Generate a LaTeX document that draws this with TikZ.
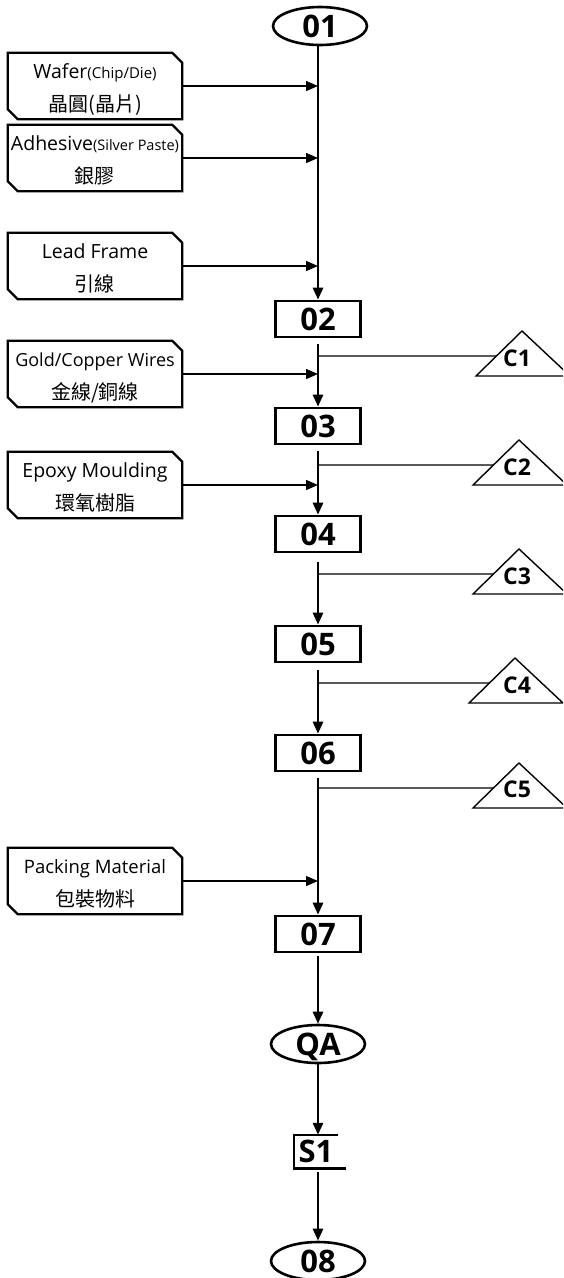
\documentclass[tikz,border=0pt]{standalone}
\usepackage{fontspec}
\setmainfont{Open Sans}
\newfontfamily\cjk{Noto Sans CJK TC}
\usetikzlibrary{arrows.meta,calc,shapes.geometric}
\begin{document}
\begin{tikzpicture}[x=1pt,y=-1pt,
  card/.style={minimum width=174pt,minimum height=66pt,inner sep=0pt,align=center,
    text height=50pt,text depth=0pt,font=\fontsize{19.5}{33}\selectfont},
  cardline/.style={line width=2.3pt,line join=miter},
  proc/.style={draw,line width=2.6pt,minimum width=85pt,minimum height=36pt,inner sep=0pt,
    text height=22pt,text depth=0pt,font=\bfseries\fontsize{31}{31}\selectfont},
  term/.style={draw,ellipse,line width=2.6pt,minimum width=94pt,minimum height=38pt,inner sep=0pt,
    text height=22pt,text depth=0pt,font=\bfseries\fontsize{31}{31}\selectfont},
  stor/.style={minimum width=44pt,minimum height=33pt,inner sep=0pt,
    text height=22pt,text depth=0pt,font=\bfseries\fontsize{31}{31}\selectfont},
  flow/.style={line width=2.7pt,-{Triangle[length=12pt,width=10pt]}},
  feed/.style={line width=1.4pt,-{Triangle[length=12pt,width=10pt]}},
  branch/.style={line width=1.3pt},
  clabel/.style={inner sep=0pt,text height=17pt,text depth=0pt,font=\bfseries\fontsize{23}{23}\selectfont},
  tri/.style={line width=1.4pt,line join=miter},
  zh/.style={}]
\useasboundingbox (0,0) rectangle (563,1278);
\clip (0,0) rectangle (563,1278);

% main flow nodes
\node[term] (n01) at (320,26) {01};
\node[proc] (n02) at (318,319) {02};
\node[proc] (n03) at (318,426) {03};
\node[proc] (n04) at (318,534) {04};
\node[proc] (n05) at (318,644) {05};
\node[proc] (n06) at (318,753) {06};
\node[proc] (n07) at (318,934) {07};
\node[term] (qa) at (318,1044) {QA};
\node[stor] (s1) at (316,1151.5) {S1};
\node[term] (n08) at (318,1261) {08};
\draw[line width=2.6pt] ([xshift=8pt]s1.south east) -- (s1.south west) -- (s1.north west) -- (s1.north east);

% main connectors
\draw[flow] (n01.south -| n02) -- (n02);
\draw[flow,shorten <=6pt] (n02) -- (n03);
\draw[flow,shorten <=6pt] (n03) -- (n04);
\draw[flow,shorten <=9pt] (n04) -- (n05);
\draw[flow,shorten <=7pt] (n05) -- (n06);
\draw[flow,shorten <=6pt] (n06) -- (n07);
\draw[flow,shorten <=3pt] (n07) -- (qa);
\draw[flow] (qa) -- (qa |- s1.north);
\draw[flow,shorten <=4pt] (qa |- s1.south) -- (n08);

% material cards
\node[card] (w)  at (95,86)  {Wafer{\fontsize{15}{33}\selectfont(Chip/Die)}\\{\cjk\fontsize{20}{33}\selectfont 晶圓(晶片)}};
\node[card] (ad) at (95,158) {Adhesive{\fontsize{14.5}{33}\selectfont(Silver Paste)}\\{\cjk\fontsize{20}{33}\selectfont 銀膠}};
\node[card] (lf) at (95,266) {Lead Frame\\{\cjk\fontsize{20}{33}\selectfont 引線}};
\node[card] (gw) at (95,374) {{\fontsize{18}{33}\selectfont Gold/Copper Wires}\\{\cjk\fontsize{20}{33}\selectfont 金線/銅線}};
\node[card] (ep) at (95,485) {Epoxy Moulding\\{\cjk\fontsize{20}{33}\selectfont 環氧樹脂}};
\node[card] (pk) at (95,881) {{\fontsize{18.5}{33}\selectfont Packing Material}\\{\cjk\fontsize{20}{33}\selectfont 包裝物料}};
\foreach \n in {w,ad,lf,gw,ep,pk}{
  \draw[cardline] (\n.north west) -- ([xshift=-10pt]\n.north east) -- ([yshift=-10pt]\n.north east)
    -- (\n.south east) -- ([xshift=10pt]\n.south west) -- ([yshift=10pt]\n.south west) -- cycle;
}
\coordinate (jw) at (318,86);
\coordinate (jad) at (318,158);
\coordinate (jlf) at (318,266);
\coordinate (jgw) at (318,374);
\coordinate (jep) at (318,485);
\coordinate (jpk) at (318,881);
\draw[feed] (w.east) -- (jw);
\draw[feed] (ad.east) -- (jad);
\draw[feed] (lf.east) -- (jlf);
\draw[feed] (gw.east) -- (jgw);
\draw[feed] (ep.east) -- (jep);
\draw[feed] (pk.east) -- (jpk);

% control triangles
\node[clabel] (c1) at (517,358) {C1};
\node[clabel] (c2) at (517,467) {C2};
\node[clabel] (c3) at (517,576) {C3};
\node[clabel] (c4) at (517,685) {C4};
\node[clabel] (c5) at (517,789) {C5};
\coordinate (ta1) at (522,331);
\coordinate (ta2) at (519,440);
\coordinate (ta3) at (519,549);
\coordinate (ta4) at (515,658);
\coordinate (ta5) at (519,763);
\coordinate (b1) at (318,356);
\coordinate (b2) at (318,465);
\coordinate (b3) at (318,574);
\coordinate (b4) at (318,683);
\coordinate (b5) at (318,788);
\foreach \i in {1,2,3,4,5}{
  \draw[tri] (ta\i) -- ++(-46,45) coordinate (tl\i) -- ++(94,0) -- cycle;
  \draw[branch] (b\i) -- ($(ta\i)!0.5556!(tl\i)$);
}
\end{tikzpicture}
\end{document}
